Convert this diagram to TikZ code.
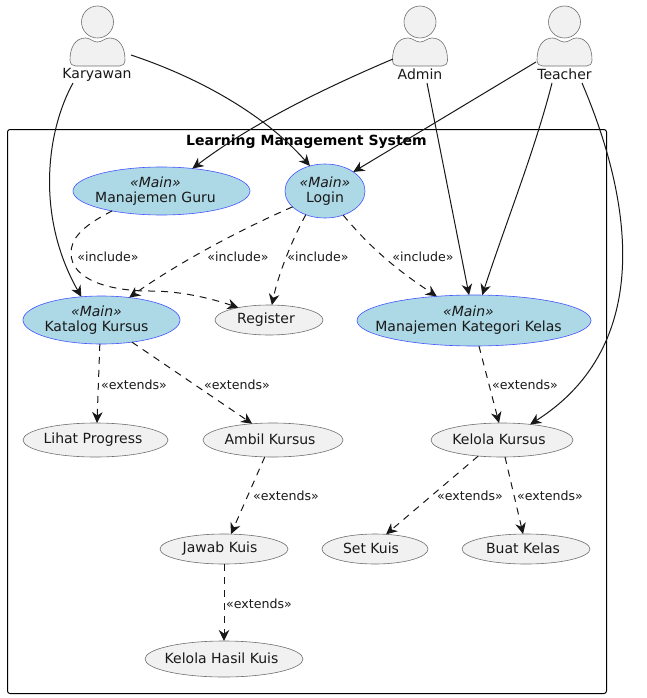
\documentclass[tikz,border=0pt]{standalone}
\usepackage{fontspec}
\setmainfont{DejaVu Sans}
\usetikzlibrary{arrows.meta,shapes.geometric}
\newcommand{\ucl}[2][0pt]{\makebox[0pt]{\hspace*{-2\dimexpr#1\relax}\raisebox{1pt}{#2}}}
\newcommand{\mainuc}[2][0pt]{\ucl[#1]{\itshape «Main»}\\[-1pt]\ucl[#1]{#2}}
\tikzset{
  x=1pt,y=-1pt,
  every node/.style={font=\fontsize{14}{16}\selectfont,text=black!90,inner sep=0pt,outer sep=0pt},
  ucase/.style={ellipse,draw=ucedge,line width=.6pt,fill=ucfill,align=center},
  mainucase/.style={ellipse,draw=mainedge,line width=.6pt,fill=lightb,align=center},
  actorpart/.style={draw=ucedge,line width=.6pt,fill=ucfill},
  flowtip/.style={-{Stealth[length=11pt,width=10.5pt,inset=3.5pt]}},
  assoc/.style={draw=ink,line width=1pt,flowtip},
  dep/.style={draw=ink,line width=1pt,flowtip,dash pattern=on 7pt off 6pt},
  deplabel/.style={font=\fontsize{12.6}{15}\selectfont}
}
\definecolor{ink}{HTML}{181818}
\definecolor{ucedge}{HTML}{707070}
\definecolor{mainedge}{HTML}{4455FF}
\definecolor{ucfill}{HTML}{F1F1F1}
\definecolor{lightb}{HTML}{ADD8E6}
\newcommand{\actorfig}[2]{%
  \node[actorpart,circle,minimum size=32pt] (#2head) at (#1,22) {};
  \draw[actorpart] (#1-27.5,60) .. controls (#1-27.5,47) and (#1-22,38) .. (#1-12,38)
    .. controls (#1-7,38) and (#1-5,42) .. (#1,42)
    .. controls (#1+5,42) and (#1+7,38) .. (#1+12,38)
    .. controls (#1+22,38) and (#1+27.5,47) .. (#1+27.5,60)
    .. controls (#1+27.5,64) and (#1+25,66) .. (#1+22,66)
    -- (#1-22,66) .. controls (#1-25,66) and (#1-27.5,64) .. (#1-27.5,60) -- cycle;
}
\begin{document}
\begin{tikzpicture}
\useasboundingbox[fill=white] (0,0) rectangle (647,698);
% system frame
\node[draw=black,line width=1pt,rounded corners=2.5pt,minimum width=599pt,minimum height=564pt,fill=white] (system) at (307,411.5) {};
\node[font=\fontsize{14}{16}\selectfont\bfseries,text=black] (systemtitle) at (306.5,141.5) {Learning Management System};
% actors
\actorfig{97.5}{karyawan}
\actorfig{420}{admin}
\actorfig{564.5}{teacher}
\node (karyawan) at (97,74.5) {Karyawan};
\node (admin) at (420,74.5) {Admin};
\node (teacher) at (564.5,74.5) {Teacher};
\coordinate (karyawanA) at (131,55);
\coordinate (karyawanB) at (73,83);
\coordinate (adminA) at (393,59);
\coordinate (adminB) at (427,83);
\coordinate (teacherA) at (536,62);
\coordinate (teacherB) at (552,83);
\coordinate (teacherC) at (582,83);
% use cases
\node[mainucase,minimum width=177pt,minimum height=48pt] (guru) at (161.5,191) {\mainuc[6pt]{Manajemen Guru}};
\node[mainucase,minimum width=80pt,minimum height=54pt] (login) at (325,191) {\mainuc[0pt]{Login}};
\node[mainucase,minimum width=157pt,minimum height=48pt] (katalog) at (101.5,320) {\mainuc[5pt]{Katalog Kursus}};
\node[mainucase,minimum width=234pt,minimum height=51pt] (mkk) at (474,320.5) {\raisebox{6pt}{\parbox[c]{0pt}{\centering\mainuc[5.5pt]{Manajemen Kategori Kelas}}}};
\node[ucase,minimum width=108pt,minimum height=30pt] (register) at (269,320) {\ucl[3pt]{Register}};
\node[ucase,minimum width=145pt,minimum height=34pt] (lihat) at (95.5,440) {\ucl[2.5pt]{Lihat Progress}};
\node[ucase,minimum width=140pt,minimum height=34pt] (ambil) at (273,440) {\ucl[3pt]{Ambil Kursus}};
\node[ucase,minimum width=142pt,minimum height=34pt] (kelola) at (502,440) {\ucl[3pt]{Kelola Kursus}};
\node[ucase,minimum width=128pt,minimum height=30pt] (jawab) at (224,549) {\ucl[4pt]{Jawab Kuis}};
\node[ucase,minimum width=106pt,minimum height=30pt] (setkuis) at (375,549) {\ucl[4pt]{Set Kuis}};
\node[ucase,minimum width=128pt,minimum height=30pt] (buat) at (526,549) {\ucl[3pt]{Buat Kelas}};
\node[ucase,minimum width=158pt,minimum height=36pt] (hasil) at (224,659) {\ucl[2.5pt]{Kelola Hasil Kuis}};
% associations
\draw[assoc] (karyawanA) .. controls (200,78) and (265,115) .. (login.121);
\draw[assoc] (karyawanB) .. controls (47,130) and (35,215) .. (katalog.131.7);
\draw[assoc] (adminA) .. controls (320,90) and (250,125) .. (guru.36);
\draw[assoc] (adminB) -- (mkk.101);
\draw[assoc] (teacherA) -- (login.34);
\draw[assoc] (teacherB) .. controls (535,150) and (505,225) .. (mkk.72.6);
\draw[assoc] (teacherC) .. controls (632,200) and (655,345) .. (kelola.29.7);
% dependencies
\draw[dep] (guru.202.4) .. controls (80,227) and (71,240) .. (71,253) .. controls (71,280) and (110,291) .. (150,291) .. controls (180,291) and (210,298) .. (register.158.8);
\draw[dep] (login.206.6) .. controls (235,232) and (175,265) .. (katalog.39);
\draw[dep] (login.231.6) .. controls (292,240) and (278,275) .. (register.79);
\draw[dep] (login.307) .. controls (372,250) and (400,272) .. (mkk.147.9);
\draw[dep] (katalog.266.4) -- (lihat.85);
\draw[dep] (katalog.324) -- (ambil.142.7);
\draw[dep] (mkk.281) -- (kelola.100);
\draw[dep] (ambil.244.8) -- (jawab.65);
\draw[dep] (jawab.270) -- (hasil.90);
\draw[dep] (kelola.214.5) -- (setkuis.53.7);
\draw[dep] (kelola.280) -- (buat.101);
% labels
\node[deplabel] (l1) at (108,256.5) {«include»};
\node[deplabel] (l2) at (238,256.5) {«include»};
\node[deplabel] (l3) at (318,256.5) {«include»};
\node[deplabel] (l4) at (423,256.5) {«include»};
\node[deplabel] (l5) at (134,384.5) {«extends»};
\node[deplabel] (l6) at (237,384.5) {«extends»};
\node[deplabel] (l7) at (525,384.5) {«extends»};
\node[deplabel] (l8) at (286,495.5) {«extends»};
\node[deplabel] (l9) at (470,495.5) {«extends»};
\node[deplabel] (l10) at (550,495.5) {«extends»};
\node[deplabel] (l11) at (259,603.5) {«extends»};
\end{tikzpicture}
\end{document}
